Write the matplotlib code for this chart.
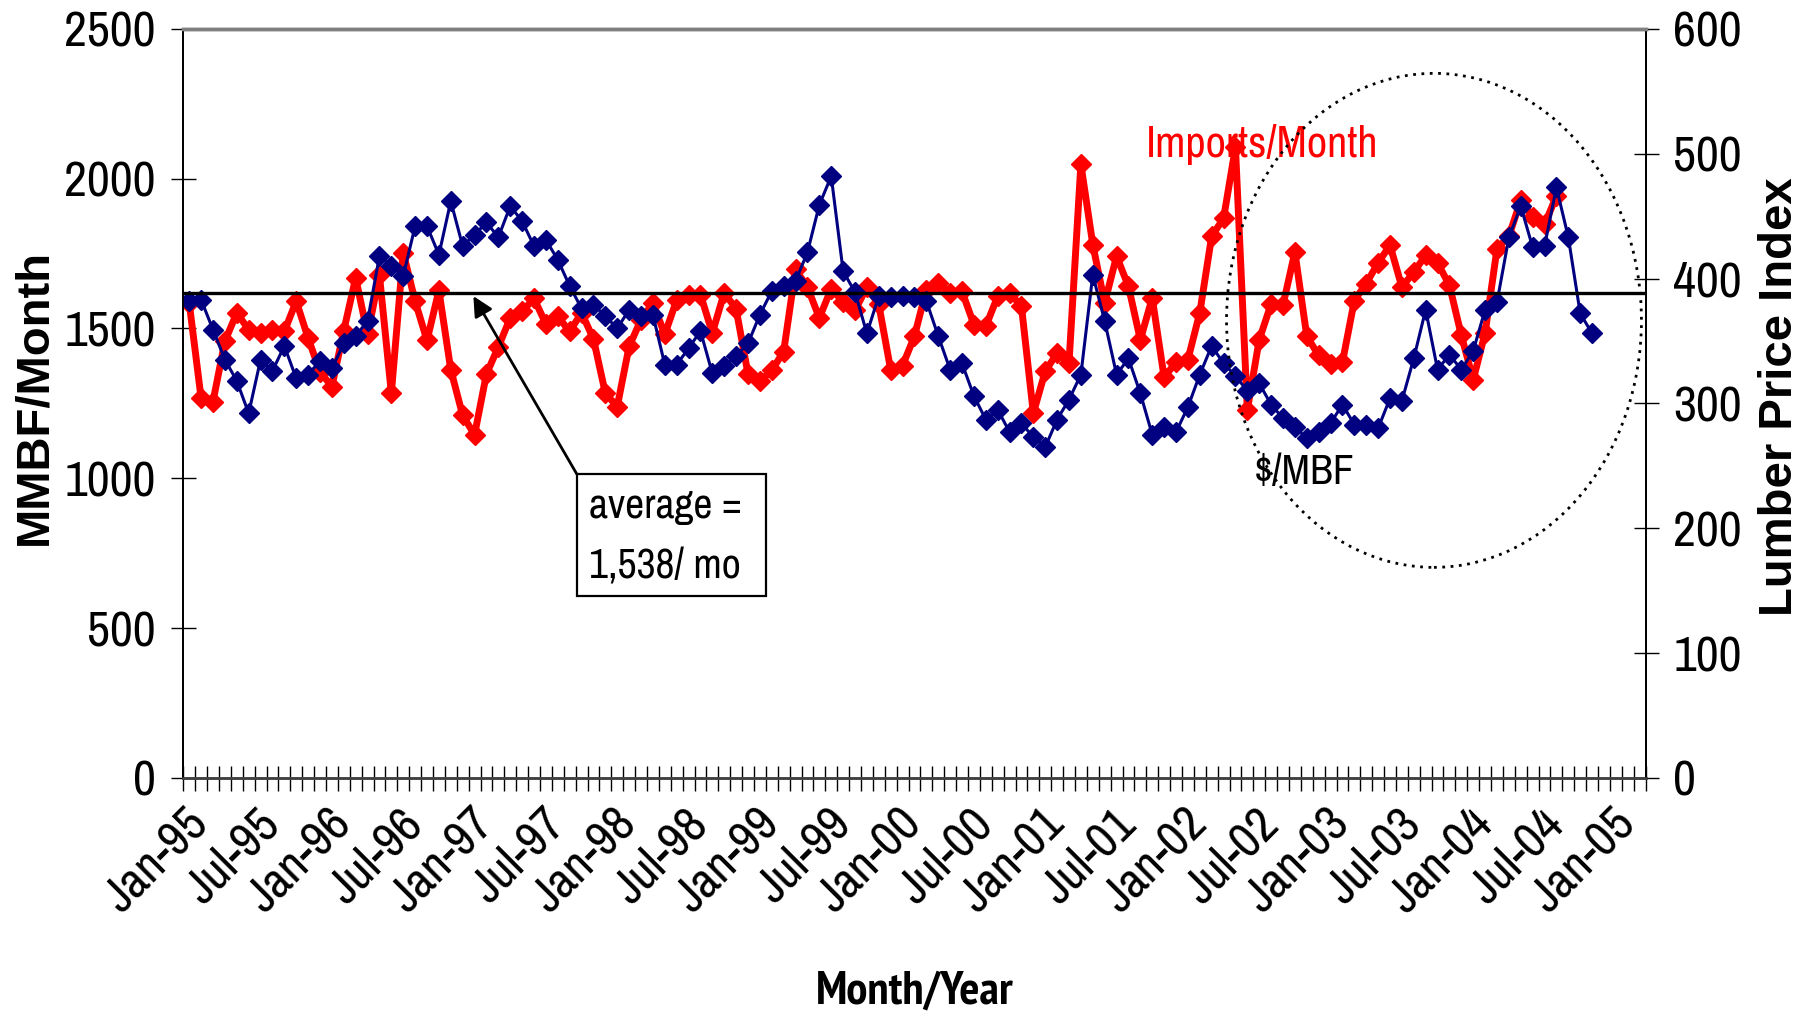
import os
import numpy as np
import matplotlib
matplotlib.use('Agg')
import matplotlib.pyplot as plt
from matplotlib import font_manager
from matplotlib.font_manager import FontProperties
from matplotlib.patches import Ellipse, Rectangle
from matplotlib.transforms import ScaledTranslation

# monthly softwood lumber imports, MMBF (Jan-95 .. Aug-04)
imports_per_month = [
    1585, 1267, 1256, 1457, 1552, 1496, 1486, 1496, 1490, 1591, 1468, 1355,
    1306, 1493, 1669, 1480, 1677, 1284, 1753, 1591, 1460, 1627, 1362, 1210,
    1145, 1348, 1438, 1535, 1557, 1600, 1515, 1540, 1490, 1552, 1465, 1284,
    1239, 1440, 1529, 1585, 1480, 1595, 1610, 1613, 1485, 1619, 1565, 1348,
    1323, 1360, 1423, 1697, 1638, 1535, 1633, 1588, 1560, 1638, 1580, 1362,
    1376, 1474, 1630, 1652, 1619, 1624, 1513, 1507, 1607, 1619, 1574, 1217,
    1357, 1418, 1385, 2048, 1780, 1585, 1741, 1641, 1462, 1602, 1337, 1387,
    1396, 1552, 1808, 1867, 2105, 1228, 1462, 1582, 1578, 1755, 1474, 1410,
    1380, 1387, 1593, 1650, 1719, 1778, 1638, 1688, 1744, 1719, 1644, 1477,
    1329, 1485, 1766, 1808, 1928, 1872, 1847, 1942,
]

# lumber price index, $/MBF (Jan-95 .. Nov-04)
lumber_price = [
    382, 383, 359, 335, 318, 292, 335, 326, 346, 320, 323, 334,
    328, 348, 354, 366, 418, 410, 402, 442, 442, 419, 462, 426,
    435, 445, 433, 458, 446, 426, 431, 415, 394, 376, 379, 370,
    360, 375, 370, 371, 331, 331, 344, 358, 324, 330, 338, 348,
    371, 390, 394, 398, 421, 459, 482, 406, 389, 356, 386, 385,
    386, 385, 382, 354, 327, 332, 306, 287, 295, 277, 284, 273,
    265, 287, 303, 323, 403, 366, 323, 336, 308, 275, 281, 277,
    297, 323, 346, 332, 322, 310, 316, 299, 288, 281, 272, 277,
    284, 299, 283, 283, 280, 304, 302, 336, 375, 327, 339, 327,
    342, 375, 381, 433, 458, 425, 426, 473, 433, 372, 356,
]

tick_labels = ['Jan-95', 'Jul-95', 'Jan-96', 'Jul-96', 'Jan-97', 'Jul-97',
               'Jan-98', 'Jul-98', 'Jan-99', 'Jul-99', 'Jan-00', 'Jul-00',
               'Jan-01', 'Jul-01', 'Jan-02', 'Jul-02', 'Jan-03', 'Jul-03',
               'Jan-04', 'Jul-04', 'Jan-05']

average_level = 1620   # the black reference line, MMBF/month
n_slots = 123          # month slots on the category axis


def narrow_font(bold):
    # look for an Arial-Narrow-like face among the installed fonts
    best = None
    for f in font_manager.fontManager.ttflist:
        key = (f.name + ' ' + os.path.basename(f.fname)).lower()
        if 'italic' in key or 'oblique' in key or f.style != 'normal':
            continue
        w = f.weight if isinstance(f.weight, int) else font_manager.weight_dict.get(f.weight, 400)
        if bold != (w >= 600):
            continue
        if bold and w > 750:
            continue
        if not bold and w != 400:
            continue
        if 'narrow' in key:
            rank = 0
        elif 'semicondensed' in key or 'semi-condensed' in str(f.stretch):
            rank = 1
        elif ('condensed' in key or str(f.stretch) == 'condensed') and 'extra' not in key and 'ultra' not in key:
            rank = 2
        else:
            continue
        if best is None or rank < best[0]:
            best = (rank, f.fname)
    if best is None:
        return FontProperties(family='Liberation Sans', weight='bold' if bold else 'normal')
    return FontProperties(fname=best[1])


fp_reg = narrow_font(False)
fp_bold = narrow_font(True)


def fp(size, bold=False):
    p = (fp_bold if bold else fp_reg).copy()
    p.set_size(size)
    return p


fig = plt.figure(figsize=(18.04, 10.16), dpi=100)
ax = fig.add_axes([0.1016, 0.2344, 0.8106, 0.7372])
ax2 = ax.twinx()

x_imp = np.arange(len(imports_per_month)) + 0.5
x_price = np.arange(len(lumber_price)) + 0.5
ax.plot(x_imp, imports_per_month, color='#ff0000', lw=5, marker='D', ms=10.5, mew=1)
ax2.plot(x_price, lumber_price, color='#000080', lw=2.2, marker='D', ms=10.5, mew=1)
ax2.axhline(average_level * 600 / 2500, color='black', lw=2.4, zorder=5)

ax.set_xlim(0, n_slots)
ax.set_ylim(0, 2500)
ax2.set_ylim(0, 600)
ax.set_yticks(range(0, 2501, 500))
ax2.set_yticks(range(0, 601, 100))
ax.tick_params(axis='y', direction='inout', length=18, width=1, pad=11)
ax2.tick_params(axis='y', direction='inout', length=18, width=1, pad=11)
for lbl in ax.get_yticklabels() + ax2.get_yticklabels():
    lbl.set_fontproperties(fp(36))

ax.set_xticks(np.arange(0, len(tick_labels) * 6, 6) + 0.5)
ax.set_xticklabels(tick_labels, rotation=45, ha='right', va='center',
                   rotation_mode='anchor', fontproperties=fp(36))
ax.set_xticks(np.arange(0, n_slots + 1), minor=True)
ax.tick_params(axis='x', which='major', length=0, pad=28)
ax.tick_params(axis='x', which='minor', direction='inout', length=18, width=1)
shift = ScaledTranslation(0.12, 0, fig.dpi_scale_trans)
for lbl in ax.get_xticklabels():
    lbl.set_transform(lbl.get_transform() + shift)

for a in (ax, ax2):
    a.spines['top'].set_color('#808080')
    a.spines['top'].set_linewidth(2.5)
    a.spines['left'].set_linewidth(1.3)
    a.spines['right'].set_linewidth(1.3)
    a.spines['bottom'].set_color('#404040')
    a.spines['bottom'].set_linewidth(1.8)

fig.text(34.5 / 1804, 1 - 397 / 1016, 'MMBF/Month', rotation=90, ha='center', va='center',
         fontsize=34, fontweight='bold', family='Liberation Sans')
fig.text(1780 / 1804, 1 - 397 / 1016, 'Lumber Price Index', rotation=90, ha='center',
         va='center', fontsize=34, fontweight='bold', family='Liberation Sans')
fig.text(914.7 / 1804, 1 - 991.8 / 1016, 'Month/Year', ha='center', va='center',
         fontproperties=fp(34, bold=True))

ax.text(81.0, 2115, 'Imports/Month', color='#ff0000', fontproperties=fp(32),
        ha='left', va='center')
ax2.text(90.0, 1021 * 600 / 2500, '$/MBF', color='black', fontproperties=fp(30),
         ha='left', va='center')

# annotation box with arrow to the average line
ax2.add_patch(Rectangle((33.1, 607), 15.9, 407, transform=ax.transData,
                        fill=True, fc='white', ec='black', lw=1.6, zorder=6))
ax2.text(34.1, 907 * 600 / 2500, 'average =', fontproperties=fp(30),
         ha='left', va='center', zorder=7)
ax2.text(34.1, 707 * 600 / 2500, '1,538/ mo', fontproperties=fp(30),
         ha='left', va='center', zorder=7)
ax2.annotate('', xy=(24.4, 1608 * 600 / 2500), xytext=(33.1, 1014 * 600 / 2500),
             arrowprops=dict(arrowstyle='-|>', color='black', lw=2, mutation_scale=30,
                             shrinkA=0, shrinkB=0), zorder=7)

ax2.add_patch(Ellipse((105.2, 1527), 34.9, 1649, transform=ax.transData, fill=False,
                      ec='black', lw=2, ls=(0, (1, 2)), zorder=4))

fig.savefig('out.png', dpi=100)
